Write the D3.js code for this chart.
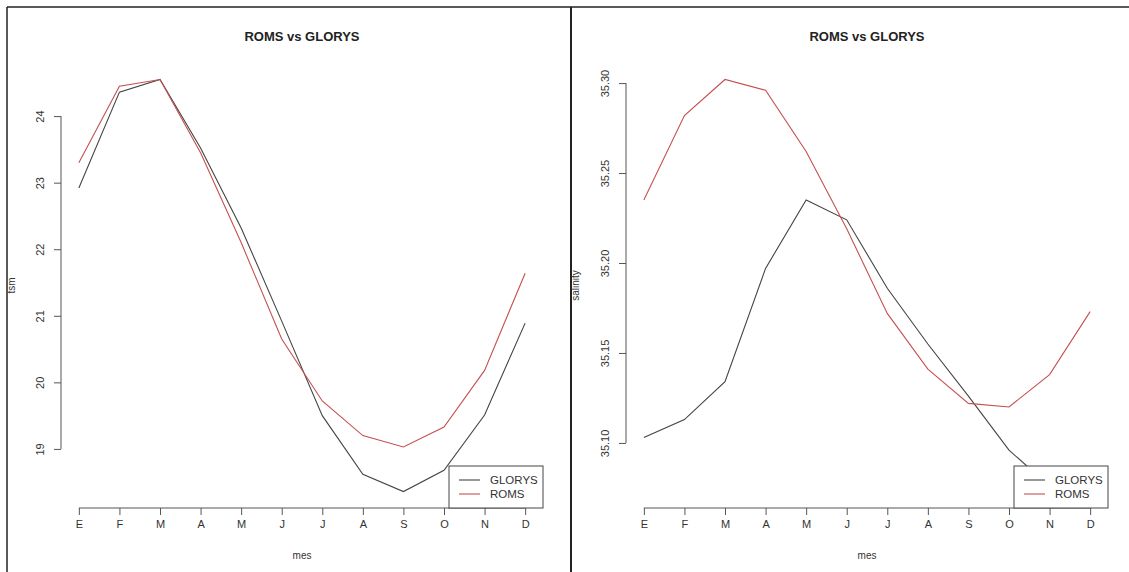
<!DOCTYPE html>
<html lang="en">

<head>
    <script src='https://d3js.org/d3.v7.min.js'></script>
    <style>
        body { margin: 0; background: #fff; }
        text { font-family: "Liberation Sans", Arial, sans-serif; }
    </style>
</head>

<body>

    <script>
        // month labels (Spanish initials)
        const meses = ["E", "F", "M", "A", "M", "J", "J", "A", "S", "O", "N", "D"];

        // temperature (tsm)
        const tsmGlorys = [22.92, 24.36, 24.55, 23.52, 22.32, 20.92, 19.5, 18.62, 18.36, 18.68, 19.51, 20.89];
        const tsmRoms = [23.3, 24.45, 24.55, 23.45, 22.1, 20.65, 19.72, 19.2, 19.03, 19.33, 20.18, 21.64];
        const tsmTicks = [19, 20, 21, 22, 23, 24];

        // salinity
        const salGlorys = [35.103, 35.113, 35.134, 35.197, 35.235, 35.224, 35.186, 35.155, 35.126, 35.096, 35.076, 35.073];
        const salRoms = [35.235, 35.282, 35.302, 35.296, 35.262, 35.219, 35.172, 35.141, 35.122, 35.12, 35.138, 35.173];
        const salTicks = [35.10, 35.15, 35.20, 35.25, 35.30];

        const W = 1129, H = 572;

        const svg = d3.select("body").append("svg")
            .attr("width", W)
            .attr("height", H);

        // panel frames
        svg.append("line").attr("x1", 7).attr("x2", W).attr("y1", 7).attr("y2", 7)
            .attr("stroke", "#222").attr("stroke-width", 1.5);
        svg.append("line").attr("x1", 7).attr("x2", 7).attr("y1", 7).attr("y2", H)
            .attr("stroke", "#222").attr("stroke-width", 1.5);
        svg.append("line").attr("x1", 571).attr("x2", 571).attr("y1", 7).attr("y2", H)
            .attr("stroke", "#222").attr("stroke-width", 2);

        function panel(left, right, ylab, glorys, roms, ticks, fmt, labX) {
            const top = 63, bottom = 508;
            const g = svg.append("g");

            // R style: 4% extension of data range
            const x = d3.scaleLinear().domain([-0.44, 11.44]).range([left, right]);
            const ext = d3.extent(glorys.concat(roms));
            const pad = (ext[1] - ext[0]) * 0.04;
            const y = d3.scaleLinear().domain([ext[0] - pad, ext[1] + pad]).range([bottom, top]);

            const line = d3.line().x((d, i) => x(i)).y(d => y(d));

            g.append("path").datum(glorys).attr("d", line)
                .attr("fill", "none").attr("stroke", "#444").attr("stroke-width", 1.1);
            g.append("path").datum(roms).attr("d", line)
                .attr("fill", "none").attr("stroke", "#c65050").attr("stroke-width", 1.1);

            // x axis
            const xAxis = g.append("g").attr("transform", "translate(0," + bottom + ")")
                .call(d3.axisBottom(x).tickValues(d3.range(12)).tickFormat(i => meses[i])
                    .tickSizeInner(7).tickSizeOuter(0).tickPadding(5));
            xAxis.select(".domain").attr("d", "M" + x(0) + ",0H" + x(11));

            // y axis
            const yAxis = g.append("g").attr("transform", "translate(" + left + ",0)")
                .call(d3.axisLeft(y).tickValues(ticks).tickFormat(fmt)
                    .tickSizeInner(7).tickSizeOuter(0));
            yAxis.select(".domain").attr("d", "M0," + y(ticks[0]) + "V" + y(ticks[ticks.length - 1]));
            yAxis.selectAll(".tick text")
                .attr("x", 0).attr("dy", 0)
                .attr("transform", "translate(-17,0) rotate(-90)")
                .attr("text-anchor", "middle");

            g.selectAll(".domain, .tick line").attr("stroke", "#555");
            g.selectAll(".tick text").attr("fill", "#333").style("font-size", "11px");

            // title and labels
            g.append("text").attr("x", (left + right) / 2).attr("y", 41)
                .attr("text-anchor", "middle").style("font-size", "13px").style("font-weight", "bold")
                .attr("fill", "#222").text("ROMS vs GLORYS");
            g.append("text").attr("x", (left + right) / 2).attr("y", 559)
                .attr("text-anchor", "middle").style("font-size", "10px").attr("fill", "#333").text("mes");
            g.append("text")
                .attr("transform", "translate(" + labX + "," + (top + bottom) / 2 + ") rotate(-90)")
                .attr("text-anchor", "middle").style("font-size", "10px").attr("fill", "#333").text(ylab);

            // legend, bottom right
            const lg = g.append("g").attr("transform", "translate(" + (right - 94) + "," + (bottom - 42) + ")");
            lg.append("rect").attr("width", 94).attr("height", 42)
                .attr("fill", "#fff").attr("stroke", "#444").attr("stroke-width", 1);
            const items = [["GLORYS", "#444"], ["ROMS", "#c65050"]];
            items.forEach((it, i) => {
                lg.append("line").attr("x1", 10).attr("x2", 31)
                    .attr("y1", 14 + i * 14).attr("y2", 14 + i * 14)
                    .attr("stroke", it[1]).attr("stroke-width", 1.1);
                lg.append("text").attr("x", 41).attr("y", 18 + i * 14)
                    .style("font-size", "11.5px").attr("fill", "#333").text(it[0]);
            });
        }

        panel(61, 543, "tsm", tsmGlorys, tsmRoms, tsmTicks, d3.format("d"), 15);
        panel(626, 1108, "salinity", salGlorys, salRoms, salTicks, d3.format(".2f"), 579);
    </script>

</body>

</html>
